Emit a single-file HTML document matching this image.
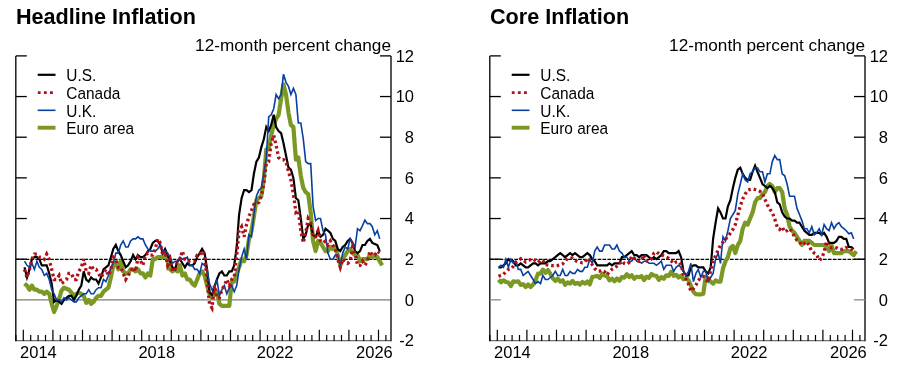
<!DOCTYPE html>
<html><head><meta charset="utf-8"><style>
html,body{margin:0;padding:0;background:#fff;width:901px;height:367px;overflow:hidden}
svg{display:block;will-change:transform}
text{font-family:"Liberation Sans",sans-serif;fill:#000}
.title{font-size:21.6px;font-weight:bold}
.lab{font-size:17.2px}
.ax{font-size:16.5px}
.leg{font-size:16.6px}
</style></head><body>
<svg width="901" height="367" viewBox="0 0 901 367">
<text x="16" y="23.6" class="title">Headline Inflation</text>
<text x="391.0" y="51" class="lab" text-anchor="end">12-month percent change</text>
<line x1="15.8" y1="299.85" x2="391.0" y2="299.85" stroke="#7c7c7c" stroke-width="1.4"/>
<line x1="15.8" y1="259.4" x2="391.0" y2="259.4" stroke="#000" stroke-width="1.25" stroke-dasharray="3.7,1.2"/>
<path d="M15.8,340.65 H391.0" fill="none" stroke="#6e6e6e" stroke-width="1.3"/>
<path d="M15.8,55.9 V341.3" fill="none" stroke="#1e1e1e" stroke-width="1.5"/>
<path d="M391.0,55.9 V341.3" fill="none" stroke="#1e1e1e" stroke-width="1.5"/>
<line x1="15.8" y1="259.19" x2="26.8" y2="259.19" stroke="#000" stroke-width="1.3"/>
<line x1="380.0" y1="259.19" x2="391.0" y2="259.19" stroke="#000" stroke-width="1.3"/>
<line x1="15.8" y1="218.53" x2="26.8" y2="218.53" stroke="#000" stroke-width="1.3"/>
<line x1="380.0" y1="218.53" x2="391.0" y2="218.53" stroke="#000" stroke-width="1.3"/>
<line x1="15.8" y1="177.87" x2="26.8" y2="177.87" stroke="#000" stroke-width="1.3"/>
<line x1="380.0" y1="177.87" x2="391.0" y2="177.87" stroke="#000" stroke-width="1.3"/>
<line x1="15.8" y1="137.21" x2="26.8" y2="137.21" stroke="#000" stroke-width="1.3"/>
<line x1="380.0" y1="137.21" x2="391.0" y2="137.21" stroke="#000" stroke-width="1.3"/>
<line x1="15.8" y1="96.55" x2="26.8" y2="96.55" stroke="#000" stroke-width="1.3"/>
<line x1="380.0" y1="96.55" x2="391.0" y2="96.55" stroke="#000" stroke-width="1.3"/>
<line x1="15.8" y1="55.89" x2="26.8" y2="55.89" stroke="#000" stroke-width="1.3"/>
<line x1="380.0" y1="55.89" x2="391.0" y2="55.89" stroke="#000" stroke-width="1.3"/>
<text x="414" y="346.1" class="ax" text-anchor="end">-2</text>
<text x="414" y="305.5" class="ax" text-anchor="end">0</text>
<text x="414" y="264.8" class="ax" text-anchor="end">2</text>
<text x="414" y="224.1" class="ax" text-anchor="end">4</text>
<text x="414" y="183.5" class="ax" text-anchor="end">6</text>
<text x="414" y="142.8" class="ax" text-anchor="end">8</text>
<text x="414" y="102.2" class="ax" text-anchor="end">10</text>
<text x="414" y="61.5" class="ax" text-anchor="end">12</text>
<line x1="15.9" y1="341.1" x2="15.9" y2="335.0" stroke="#000" stroke-width="1.2"/>
<line x1="23.3" y1="341.1" x2="23.3" y2="329.7" stroke="#000" stroke-width="1.2"/>
<line x1="30.7" y1="341.1" x2="30.7" y2="335.0" stroke="#000" stroke-width="1.2"/>
<line x1="38.1" y1="341.1" x2="38.1" y2="335.0" stroke="#000" stroke-width="1.2"/>
<line x1="45.5" y1="341.1" x2="45.5" y2="335.0" stroke="#000" stroke-width="1.2"/>
<line x1="52.9" y1="341.1" x2="52.9" y2="329.7" stroke="#000" stroke-width="1.2"/>
<line x1="60.3" y1="341.1" x2="60.3" y2="335.0" stroke="#000" stroke-width="1.2"/>
<line x1="67.7" y1="341.1" x2="67.7" y2="335.0" stroke="#000" stroke-width="1.2"/>
<line x1="75.1" y1="341.1" x2="75.1" y2="335.0" stroke="#000" stroke-width="1.2"/>
<line x1="82.5" y1="341.1" x2="82.5" y2="329.7" stroke="#000" stroke-width="1.2"/>
<line x1="89.9" y1="341.1" x2="89.9" y2="335.0" stroke="#000" stroke-width="1.2"/>
<line x1="97.3" y1="341.1" x2="97.3" y2="335.0" stroke="#000" stroke-width="1.2"/>
<line x1="104.7" y1="341.1" x2="104.7" y2="335.0" stroke="#000" stroke-width="1.2"/>
<line x1="112.1" y1="341.1" x2="112.1" y2="329.7" stroke="#000" stroke-width="1.2"/>
<line x1="119.5" y1="341.1" x2="119.5" y2="335.0" stroke="#000" stroke-width="1.2"/>
<line x1="126.9" y1="341.1" x2="126.9" y2="335.0" stroke="#000" stroke-width="1.2"/>
<line x1="134.3" y1="341.1" x2="134.3" y2="335.0" stroke="#000" stroke-width="1.2"/>
<line x1="141.7" y1="341.1" x2="141.7" y2="329.7" stroke="#000" stroke-width="1.2"/>
<line x1="149.1" y1="341.1" x2="149.1" y2="335.0" stroke="#000" stroke-width="1.2"/>
<line x1="156.5" y1="341.1" x2="156.5" y2="335.0" stroke="#000" stroke-width="1.2"/>
<line x1="163.9" y1="341.1" x2="163.9" y2="335.0" stroke="#000" stroke-width="1.2"/>
<line x1="171.3" y1="341.1" x2="171.3" y2="329.7" stroke="#000" stroke-width="1.2"/>
<line x1="178.7" y1="341.1" x2="178.7" y2="335.0" stroke="#000" stroke-width="1.2"/>
<line x1="186.1" y1="341.1" x2="186.1" y2="335.0" stroke="#000" stroke-width="1.2"/>
<line x1="193.5" y1="341.1" x2="193.5" y2="335.0" stroke="#000" stroke-width="1.2"/>
<line x1="200.9" y1="341.1" x2="200.9" y2="329.7" stroke="#000" stroke-width="1.2"/>
<line x1="208.3" y1="341.1" x2="208.3" y2="335.0" stroke="#000" stroke-width="1.2"/>
<line x1="215.7" y1="341.1" x2="215.7" y2="335.0" stroke="#000" stroke-width="1.2"/>
<line x1="223.1" y1="341.1" x2="223.1" y2="335.0" stroke="#000" stroke-width="1.2"/>
<line x1="230.5" y1="341.1" x2="230.5" y2="329.7" stroke="#000" stroke-width="1.2"/>
<line x1="237.9" y1="341.1" x2="237.9" y2="335.0" stroke="#000" stroke-width="1.2"/>
<line x1="245.3" y1="341.1" x2="245.3" y2="335.0" stroke="#000" stroke-width="1.2"/>
<line x1="252.7" y1="341.1" x2="252.7" y2="335.0" stroke="#000" stroke-width="1.2"/>
<line x1="260.1" y1="341.1" x2="260.1" y2="329.7" stroke="#000" stroke-width="1.2"/>
<line x1="267.5" y1="341.1" x2="267.5" y2="335.0" stroke="#000" stroke-width="1.2"/>
<line x1="274.9" y1="341.1" x2="274.9" y2="335.0" stroke="#000" stroke-width="1.2"/>
<line x1="282.3" y1="341.1" x2="282.3" y2="335.0" stroke="#000" stroke-width="1.2"/>
<line x1="289.7" y1="341.1" x2="289.7" y2="329.7" stroke="#000" stroke-width="1.2"/>
<line x1="297.1" y1="341.1" x2="297.1" y2="335.0" stroke="#000" stroke-width="1.2"/>
<line x1="304.5" y1="341.1" x2="304.5" y2="335.0" stroke="#000" stroke-width="1.2"/>
<line x1="311.9" y1="341.1" x2="311.9" y2="335.0" stroke="#000" stroke-width="1.2"/>
<line x1="319.3" y1="341.1" x2="319.3" y2="329.7" stroke="#000" stroke-width="1.2"/>
<line x1="326.7" y1="341.1" x2="326.7" y2="335.0" stroke="#000" stroke-width="1.2"/>
<line x1="334.1" y1="341.1" x2="334.1" y2="335.0" stroke="#000" stroke-width="1.2"/>
<line x1="341.5" y1="341.1" x2="341.5" y2="335.0" stroke="#000" stroke-width="1.2"/>
<line x1="348.9" y1="341.1" x2="348.9" y2="329.7" stroke="#000" stroke-width="1.2"/>
<line x1="356.3" y1="341.1" x2="356.3" y2="335.0" stroke="#000" stroke-width="1.2"/>
<line x1="363.7" y1="341.1" x2="363.7" y2="335.0" stroke="#000" stroke-width="1.2"/>
<line x1="371.1" y1="341.1" x2="371.1" y2="335.0" stroke="#000" stroke-width="1.2"/>
<line x1="378.5" y1="341.1" x2="378.5" y2="329.7" stroke="#000" stroke-width="1.2"/>
<line x1="385.9" y1="341.1" x2="385.9" y2="335.0" stroke="#000" stroke-width="1.2"/>
<text x="38.4" y="358" class="ax" text-anchor="middle">2014</text>
<text x="156.8" y="358" class="ax" text-anchor="middle">2018</text>
<text x="275.2" y="358" class="ax" text-anchor="middle">2022</text>
<text x="392.8" y="358" class="ax" text-anchor="end">2026</text>
<line x1="37.7" y1="74.8" x2="55.5" y2="74.8" stroke="#000000" stroke-width="2.2"/>
<line x1="39.2" y1="92.6" x2="55.5" y2="92.6" stroke="#b0101a" stroke-width="2.8" stroke-dasharray="0.01,6.1" stroke-linecap="square"/>
<line x1="37.7" y1="110.3" x2="55.5" y2="110.3" stroke="#0840a2" stroke-width="1.6"/>
<line x1="37.7" y1="127.7" x2="55.5" y2="127.7" stroke="#7b9824" stroke-width="3.9"/>
<text transform="translate(66.3,81.00) scale(0.93,1)" class="leg">U.S.</text>
<text transform="translate(66.3,98.75) scale(0.93,1)" class="leg">Canada</text>
<text transform="translate(66.3,116.50) scale(0.93,1)" class="leg">U.K.</text>
<text transform="translate(66.3,134.25) scale(0.93,1)" class="leg">Euro area</text>
<path d="M24.5,283.6 L27.0,285.6 L29.5,289.7 L31.9,285.6 L34.4,289.7 L36.9,289.7 L39.3,291.7 L41.8,291.7 L44.3,293.8 L46.7,291.7 L49.2,293.8 L51.7,303.9 L54.1,312.0 L56.6,305.9 L59.1,298.8 L61.5,290.7 L64.0,287.7 L66.5,288.7 L68.9,289.7 L71.4,292.7 L73.9,295.8 L76.3,293.8 L78.8,292.7 L81.3,293.8 L83.7,295.8 L86.2,302.9 L88.7,299.9 L91.1,303.9 L93.6,301.9 L96.1,297.8 L98.5,295.8 L101.0,295.8 L103.5,291.7 L105.9,289.7 L108.4,287.7 L110.9,277.5 L113.3,265.3 L115.8,262.2 L118.3,269.4 L120.7,261.2 L123.2,271.4 L125.7,273.4 L128.1,273.4 L130.6,269.4 L133.1,269.4 L135.5,271.4 L138.0,269.4 L140.5,273.4 L142.9,273.4 L145.4,277.5 L147.9,273.4 L150.3,275.5 L152.8,259.2 L155.3,259.2 L157.7,257.2 L160.2,257.2 L162.7,257.2 L165.1,253.1 L167.6,261.2 L170.1,269.4 L172.5,271.4 L175.0,269.4 L177.5,271.4 L179.9,265.3 L182.4,275.5 L184.9,273.4 L187.3,279.5 L189.8,279.5 L192.3,283.6 L194.7,285.6 L197.2,279.5 L199.7,273.4 L202.1,271.4 L204.6,275.5 L207.1,285.6 L209.5,293.8 L212.0,297.8 L214.5,293.8 L216.9,291.7 L219.4,303.9 L221.9,305.9 L224.3,305.9 L226.8,305.9 L229.3,305.9 L231.7,281.6 L234.2,281.6 L236.7,273.4 L239.1,267.3 L241.6,259.2 L244.1,261.2 L246.5,255.1 L249.0,238.9 L251.5,230.7 L253.9,216.5 L256.4,200.2 L258.9,198.2 L261.3,196.2 L263.8,179.9 L266.3,149.4 L268.7,149.4 L271.2,135.2 L273.7,125.0 L276.1,118.9 L278.6,114.8 L281.1,98.6 L283.5,84.4 L286.0,94.5 L288.5,112.8 L290.9,125.0 L293.4,127.0 L295.9,159.6 L298.3,157.5 L300.8,175.8 L303.3,188.0 L305.7,192.1 L308.2,194.1 L310.7,212.4 L313.1,240.9 L315.6,251.1 L318.1,240.9 L320.5,242.9 L323.0,247.0 L325.5,251.1 L327.9,251.1 L330.4,247.0 L332.9,249.0 L335.3,247.0 L337.8,255.1 L340.3,265.3 L342.7,259.2 L345.2,255.1 L347.7,251.1 L350.1,249.0 L352.6,253.1 L355.1,255.1 L357.5,255.1 L360.0,261.2 L362.5,259.2 L364.9,259.2 L367.4,259.2 L369.9,255.1 L372.3,257.2 L374.8,255.1 L377.3,257.2 L379.7,261.2 L382.2,265.3" fill="none" stroke="#7b9824" stroke-width="4.2" stroke-linejoin="round"/>
<path d="M24.5,267.3 L27.0,277.5 L29.5,269.4 L31.9,259.2 L34.4,257.2 L36.9,257.2 L39.3,259.2 L41.8,265.3 L44.3,265.3 L46.7,265.3 L49.2,273.4 L51.7,283.6 L54.1,301.9 L56.6,299.9 L59.1,301.9 L61.5,303.9 L64.0,299.9 L66.5,297.8 L68.9,295.8 L71.4,295.8 L73.9,299.9 L76.3,295.8 L78.8,289.7 L81.3,285.6 L83.7,271.4 L86.2,279.5 L88.7,281.6 L91.1,277.5 L93.6,279.5 L96.1,279.5 L98.5,283.6 L101.0,277.5 L103.5,269.4 L105.9,267.3 L108.4,265.3 L110.9,257.2 L113.3,249.0 L115.8,245.0 L118.3,251.1 L120.7,255.1 L123.2,261.2 L125.7,267.3 L128.1,265.3 L130.6,261.2 L133.1,255.1 L135.5,259.2 L138.0,255.1 L140.5,257.2 L142.9,257.2 L145.4,255.1 L147.9,251.1 L150.3,249.0 L152.8,242.9 L155.3,240.9 L157.7,240.9 L160.2,245.0 L162.7,253.1 L165.1,249.0 L167.6,255.1 L170.1,261.2 L172.5,267.3 L175.0,269.4 L177.5,261.2 L179.9,259.2 L182.4,263.3 L184.9,267.3 L187.3,263.3 L189.8,265.3 L192.3,265.3 L194.7,263.3 L197.2,257.2 L199.7,253.1 L202.1,249.0 L204.6,253.1 L207.1,269.4 L209.5,292.7 L212.0,294.8 L214.5,286.6 L216.9,279.5 L219.4,273.4 L221.9,271.4 L224.3,275.5 L226.8,275.5 L229.3,271.4 L231.7,271.4 L234.2,265.3 L236.7,247.0 L239.1,214.5 L241.6,198.2 L244.1,190.1 L246.5,190.1 L249.0,192.1 L251.5,190.1 L253.9,173.8 L256.4,161.6 L258.9,157.5 L261.3,147.4 L263.8,139.2 L266.3,127.0 L268.7,131.1 L271.2,125.0 L273.7,114.8 L276.1,127.0 L278.6,131.1 L281.1,133.1 L283.5,143.3 L286.0,155.5 L288.5,167.7 L290.9,169.7 L293.4,177.9 L295.9,198.2 L298.3,200.2 L300.8,218.5 L303.3,238.9 L305.7,234.8 L308.2,224.6 L310.7,224.6 L313.1,234.8 L315.6,236.8 L318.1,230.7 L320.5,236.8 L323.0,234.8 L325.5,228.7 L327.9,230.7 L330.4,232.8 L332.9,238.9 L335.3,240.9 L337.8,249.0 L340.3,251.1 L342.7,247.0 L345.2,245.0 L347.7,240.9 L350.1,238.9 L352.6,242.9 L355.1,251.1 L357.5,253.1 L360.0,251.1 L362.5,245.0 L364.9,245.0 L367.4,240.9 L369.9,238.9 L372.3,242.9 L374.8,243.9 L377.3,245.0 L379.7,251.1" fill="none" stroke="#000000" stroke-width="2.2" stroke-linejoin="miter"/>
<path d="M24.5,261.2 L27.0,265.3 L29.5,267.3 L31.9,263.3 L34.4,269.4 L36.9,261.2 L39.3,267.3 L41.8,269.4 L44.3,275.5 L46.7,273.4 L49.2,279.5 L51.7,289.7 L54.1,293.8 L56.6,299.9 L59.1,299.9 L61.5,301.9 L64.0,297.8 L66.5,299.9 L68.9,297.8 L71.4,299.9 L73.9,301.9 L76.3,301.9 L78.8,297.8 L81.3,295.8 L83.7,293.8 L86.2,293.8 L88.7,289.7 L91.1,293.8 L93.6,293.8 L96.1,289.7 L98.5,287.7 L101.0,287.7 L103.5,279.5 L105.9,281.6 L108.4,275.5 L110.9,267.3 L113.3,263.3 L115.8,253.1 L118.3,253.1 L120.7,245.0 L123.2,240.9 L125.7,247.0 L128.1,247.0 L130.6,240.9 L133.1,238.9 L135.5,238.9 L138.0,236.8 L140.5,238.9 L142.9,238.9 L145.4,245.0 L147.9,249.0 L150.3,251.1 L152.8,251.1 L155.3,251.1 L157.7,249.0 L160.2,245.0 L162.7,251.1 L165.1,251.1 L167.6,253.1 L170.1,257.2 L172.5,263.3 L175.0,261.2 L177.5,261.2 L179.9,257.2 L182.4,259.2 L184.9,259.2 L187.3,257.2 L189.8,265.3 L192.3,265.3 L194.7,269.4 L197.2,269.4 L199.7,273.4 L202.1,263.3 L204.6,265.3 L207.1,269.4 L209.5,283.6 L212.0,289.7 L214.5,287.7 L216.9,279.5 L219.4,295.8 L221.9,289.7 L224.3,285.6 L226.8,293.8 L229.3,287.7 L231.7,285.6 L234.2,291.7 L236.7,285.6 L239.1,269.4 L241.6,257.2 L244.1,249.0 L246.5,259.2 L249.0,234.8 L251.5,236.8 L253.9,214.5 L256.4,196.2 L258.9,190.1 L261.3,188.0 L263.8,173.8 L266.3,157.5 L268.7,116.9 L271.2,114.8 L273.7,108.7 L276.1,94.5 L278.6,98.6 L281.1,94.5 L283.5,74.2 L286.0,82.3 L288.5,86.4 L290.9,94.5 L293.4,88.4 L295.9,94.5 L298.3,123.0 L300.8,123.0 L303.3,139.2 L305.7,161.6 L308.2,163.6 L310.7,163.6 L313.1,206.3 L315.6,220.6 L318.1,218.5 L320.5,218.5 L323.0,230.7 L325.5,234.8 L327.9,253.1 L330.4,259.2 L332.9,259.2 L335.3,255.1 L337.8,255.1 L340.3,265.3 L342.7,253.1 L345.2,247.0 L347.7,249.0 L350.1,238.9 L352.6,242.9 L355.1,247.0 L357.5,228.7 L360.0,230.7 L362.5,225.6 L364.9,220.2 L367.4,223.6 L369.9,223.6 L372.3,226.7 L374.8,234.8 L377.3,230.7 L379.7,238.9" fill="none" stroke="#0840a2" stroke-width="1.6" stroke-linejoin="miter"/>
<path d="M24.5,269.4 L27.0,277.5 L29.5,269.4 L31.9,259.2 L34.4,254.1 L36.9,254.1 L39.3,257.2 L41.8,257.2 L44.3,259.2 L46.7,254.1 L49.2,259.2 L51.7,269.4 L54.1,279.5 L56.6,279.5 L59.1,275.5 L61.5,283.6 L64.0,281.6 L66.5,279.5 L68.9,273.4 L71.4,273.4 L73.9,279.5 L76.3,279.5 L78.8,271.4 L81.3,267.3 L83.7,259.2 L86.2,271.4 L88.7,273.4 L91.1,265.3 L93.6,269.4 L96.1,269.4 L98.5,273.4 L101.0,277.5 L103.5,273.4 L105.9,269.4 L108.4,275.5 L110.9,269.4 L113.3,257.2 L115.8,259.2 L118.3,267.3 L120.7,267.3 L123.2,273.4 L125.7,279.5 L128.1,275.5 L130.6,271.4 L133.1,267.3 L135.5,271.4 L138.0,257.2 L140.5,261.2 L142.9,265.3 L145.4,255.1 L147.9,253.1 L150.3,255.1 L152.8,255.1 L155.3,249.0 L157.7,238.9 L160.2,242.9 L162.7,255.1 L165.1,251.1 L167.6,265.3 L170.1,259.2 L172.5,271.4 L175.0,269.4 L177.5,261.2 L179.9,259.2 L182.4,251.1 L184.9,259.2 L187.3,259.2 L189.8,261.2 L192.3,261.2 L194.7,261.2 L197.2,255.1 L199.7,255.1 L202.1,251.1 L204.6,255.1 L207.1,281.6 L209.5,303.9 L212.0,308.0 L214.5,285.6 L216.9,297.8 L219.4,297.8 L221.9,289.7 L224.3,285.6 L226.8,279.5 L229.3,285.6 L231.7,279.5 L234.2,277.5 L236.7,255.1 L239.1,230.7 L241.6,226.7 L244.1,236.8 L246.5,224.6 L249.0,216.5 L251.5,210.4 L253.9,204.3 L256.4,204.3 L258.9,202.3 L261.3,196.2 L263.8,184.0 L266.3,163.6 L268.7,161.6 L271.2,143.3 L273.7,135.2 L276.1,145.3 L278.6,157.5 L281.1,159.6 L283.5,159.6 L286.0,161.6 L288.5,171.8 L290.9,179.9 L293.4,194.1 L295.9,212.4 L298.3,210.4 L300.8,230.7 L303.3,242.9 L305.7,232.8 L308.2,218.5 L310.7,222.6 L313.1,236.8 L315.6,236.8 L318.1,230.7 L320.5,240.9 L323.0,242.9 L325.5,240.9 L327.9,245.0 L330.4,240.9 L332.9,245.0 L335.3,249.0 L337.8,259.2 L340.3,267.3 L342.7,259.2 L345.2,261.2 L347.7,263.3 L350.1,261.2 L352.6,247.0 L355.1,253.1 L357.5,265.3 L360.0,265.3 L362.5,261.2 L364.9,265.3 L367.4,261.2 L369.9,251.1 L372.3,255.1 L374.8,255.1 L377.3,251.1 L379.7,253.1" fill="none" stroke="#b0101a" stroke-width="3.3" stroke-dasharray="2.6,2.9" stroke-linecap="butt"/>
<text x="490" y="23.6" class="title">Core Inflation</text>
<text x="865.0" y="51" class="lab" text-anchor="end">12-month percent change</text>
<line x1="489.8" y1="259.4" x2="865.0" y2="259.4" stroke="#000" stroke-width="1.25" stroke-dasharray="3.7,1.2"/>
<path d="M489.8,340.65 H865.0" fill="none" stroke="#6e6e6e" stroke-width="1.3"/>
<path d="M489.8,55.9 V341.3" fill="none" stroke="#1e1e1e" stroke-width="1.5"/>
<path d="M865.0,55.9 V341.3" fill="none" stroke="#1e1e1e" stroke-width="1.5"/>
<line x1="489.8" y1="259.19" x2="500.8" y2="259.19" stroke="#000" stroke-width="1.3"/>
<line x1="854.0" y1="259.19" x2="865.0" y2="259.19" stroke="#000" stroke-width="1.3"/>
<line x1="489.8" y1="218.53" x2="500.8" y2="218.53" stroke="#000" stroke-width="1.3"/>
<line x1="854.0" y1="218.53" x2="865.0" y2="218.53" stroke="#000" stroke-width="1.3"/>
<line x1="489.8" y1="177.87" x2="500.8" y2="177.87" stroke="#000" stroke-width="1.3"/>
<line x1="854.0" y1="177.87" x2="865.0" y2="177.87" stroke="#000" stroke-width="1.3"/>
<line x1="489.8" y1="137.21" x2="500.8" y2="137.21" stroke="#000" stroke-width="1.3"/>
<line x1="854.0" y1="137.21" x2="865.0" y2="137.21" stroke="#000" stroke-width="1.3"/>
<line x1="489.8" y1="96.55" x2="500.8" y2="96.55" stroke="#000" stroke-width="1.3"/>
<line x1="854.0" y1="96.55" x2="865.0" y2="96.55" stroke="#000" stroke-width="1.3"/>
<line x1="489.8" y1="55.89" x2="500.8" y2="55.89" stroke="#000" stroke-width="1.3"/>
<line x1="854.0" y1="55.89" x2="865.0" y2="55.89" stroke="#000" stroke-width="1.3"/>
<line x1="489.8" y1="299.85" x2="500.8" y2="299.85" stroke="#8a8a8a" stroke-width="1.3"/>
<line x1="854.0" y1="299.85" x2="865.0" y2="299.85" stroke="#8a8a8a" stroke-width="1.3"/>
<text x="888" y="346.1" class="ax" text-anchor="end">-2</text>
<text x="888" y="305.5" class="ax" text-anchor="end">0</text>
<text x="888" y="264.8" class="ax" text-anchor="end">2</text>
<text x="888" y="224.1" class="ax" text-anchor="end">4</text>
<text x="888" y="183.5" class="ax" text-anchor="end">6</text>
<text x="888" y="142.8" class="ax" text-anchor="end">8</text>
<text x="888" y="102.2" class="ax" text-anchor="end">10</text>
<text x="888" y="61.5" class="ax" text-anchor="end">12</text>
<line x1="489.9" y1="341.1" x2="489.9" y2="335.0" stroke="#000" stroke-width="1.2"/>
<line x1="497.3" y1="341.1" x2="497.3" y2="329.7" stroke="#000" stroke-width="1.2"/>
<line x1="504.7" y1="341.1" x2="504.7" y2="335.0" stroke="#000" stroke-width="1.2"/>
<line x1="512.1" y1="341.1" x2="512.1" y2="335.0" stroke="#000" stroke-width="1.2"/>
<line x1="519.5" y1="341.1" x2="519.5" y2="335.0" stroke="#000" stroke-width="1.2"/>
<line x1="526.9" y1="341.1" x2="526.9" y2="329.7" stroke="#000" stroke-width="1.2"/>
<line x1="534.3" y1="341.1" x2="534.3" y2="335.0" stroke="#000" stroke-width="1.2"/>
<line x1="541.7" y1="341.1" x2="541.7" y2="335.0" stroke="#000" stroke-width="1.2"/>
<line x1="549.1" y1="341.1" x2="549.1" y2="335.0" stroke="#000" stroke-width="1.2"/>
<line x1="556.5" y1="341.1" x2="556.5" y2="329.7" stroke="#000" stroke-width="1.2"/>
<line x1="563.9" y1="341.1" x2="563.9" y2="335.0" stroke="#000" stroke-width="1.2"/>
<line x1="571.3" y1="341.1" x2="571.3" y2="335.0" stroke="#000" stroke-width="1.2"/>
<line x1="578.7" y1="341.1" x2="578.7" y2="335.0" stroke="#000" stroke-width="1.2"/>
<line x1="586.1" y1="341.1" x2="586.1" y2="329.7" stroke="#000" stroke-width="1.2"/>
<line x1="593.5" y1="341.1" x2="593.5" y2="335.0" stroke="#000" stroke-width="1.2"/>
<line x1="600.9" y1="341.1" x2="600.9" y2="335.0" stroke="#000" stroke-width="1.2"/>
<line x1="608.3" y1="341.1" x2="608.3" y2="335.0" stroke="#000" stroke-width="1.2"/>
<line x1="615.7" y1="341.1" x2="615.7" y2="329.7" stroke="#000" stroke-width="1.2"/>
<line x1="623.1" y1="341.1" x2="623.1" y2="335.0" stroke="#000" stroke-width="1.2"/>
<line x1="630.5" y1="341.1" x2="630.5" y2="335.0" stroke="#000" stroke-width="1.2"/>
<line x1="637.9" y1="341.1" x2="637.9" y2="335.0" stroke="#000" stroke-width="1.2"/>
<line x1="645.3" y1="341.1" x2="645.3" y2="329.7" stroke="#000" stroke-width="1.2"/>
<line x1="652.7" y1="341.1" x2="652.7" y2="335.0" stroke="#000" stroke-width="1.2"/>
<line x1="660.1" y1="341.1" x2="660.1" y2="335.0" stroke="#000" stroke-width="1.2"/>
<line x1="667.5" y1="341.1" x2="667.5" y2="335.0" stroke="#000" stroke-width="1.2"/>
<line x1="674.9" y1="341.1" x2="674.9" y2="329.7" stroke="#000" stroke-width="1.2"/>
<line x1="682.3" y1="341.1" x2="682.3" y2="335.0" stroke="#000" stroke-width="1.2"/>
<line x1="689.7" y1="341.1" x2="689.7" y2="335.0" stroke="#000" stroke-width="1.2"/>
<line x1="697.1" y1="341.1" x2="697.1" y2="335.0" stroke="#000" stroke-width="1.2"/>
<line x1="704.5" y1="341.1" x2="704.5" y2="329.7" stroke="#000" stroke-width="1.2"/>
<line x1="711.9" y1="341.1" x2="711.9" y2="335.0" stroke="#000" stroke-width="1.2"/>
<line x1="719.3" y1="341.1" x2="719.3" y2="335.0" stroke="#000" stroke-width="1.2"/>
<line x1="726.7" y1="341.1" x2="726.7" y2="335.0" stroke="#000" stroke-width="1.2"/>
<line x1="734.1" y1="341.1" x2="734.1" y2="329.7" stroke="#000" stroke-width="1.2"/>
<line x1="741.5" y1="341.1" x2="741.5" y2="335.0" stroke="#000" stroke-width="1.2"/>
<line x1="748.9" y1="341.1" x2="748.9" y2="335.0" stroke="#000" stroke-width="1.2"/>
<line x1="756.3" y1="341.1" x2="756.3" y2="335.0" stroke="#000" stroke-width="1.2"/>
<line x1="763.7" y1="341.1" x2="763.7" y2="329.7" stroke="#000" stroke-width="1.2"/>
<line x1="771.1" y1="341.1" x2="771.1" y2="335.0" stroke="#000" stroke-width="1.2"/>
<line x1="778.5" y1="341.1" x2="778.5" y2="335.0" stroke="#000" stroke-width="1.2"/>
<line x1="785.9" y1="341.1" x2="785.9" y2="335.0" stroke="#000" stroke-width="1.2"/>
<line x1="793.3" y1="341.1" x2="793.3" y2="329.7" stroke="#000" stroke-width="1.2"/>
<line x1="800.7" y1="341.1" x2="800.7" y2="335.0" stroke="#000" stroke-width="1.2"/>
<line x1="808.1" y1="341.1" x2="808.1" y2="335.0" stroke="#000" stroke-width="1.2"/>
<line x1="815.5" y1="341.1" x2="815.5" y2="335.0" stroke="#000" stroke-width="1.2"/>
<line x1="822.9" y1="341.1" x2="822.9" y2="329.7" stroke="#000" stroke-width="1.2"/>
<line x1="830.3" y1="341.1" x2="830.3" y2="335.0" stroke="#000" stroke-width="1.2"/>
<line x1="837.7" y1="341.1" x2="837.7" y2="335.0" stroke="#000" stroke-width="1.2"/>
<line x1="845.1" y1="341.1" x2="845.1" y2="335.0" stroke="#000" stroke-width="1.2"/>
<line x1="852.5" y1="341.1" x2="852.5" y2="329.7" stroke="#000" stroke-width="1.2"/>
<line x1="859.9" y1="341.1" x2="859.9" y2="335.0" stroke="#000" stroke-width="1.2"/>
<text x="512.4" y="358" class="ax" text-anchor="middle">2014</text>
<text x="630.8" y="358" class="ax" text-anchor="middle">2018</text>
<text x="749.2" y="358" class="ax" text-anchor="middle">2022</text>
<text x="866.8" y="358" class="ax" text-anchor="end">2026</text>
<line x1="511.7" y1="74.8" x2="529.5" y2="74.8" stroke="#000000" stroke-width="2.2"/>
<line x1="513.2" y1="92.6" x2="529.5" y2="92.6" stroke="#b0101a" stroke-width="2.8" stroke-dasharray="0.01,6.1" stroke-linecap="square"/>
<line x1="511.7" y1="110.3" x2="529.5" y2="110.3" stroke="#0840a2" stroke-width="1.6"/>
<line x1="511.7" y1="127.7" x2="529.5" y2="127.7" stroke="#7b9824" stroke-width="3.9"/>
<text transform="translate(540.3,81.00) scale(0.93,1)" class="leg">U.S.</text>
<text transform="translate(540.3,98.75) scale(0.93,1)" class="leg">Canada</text>
<text transform="translate(540.3,116.50) scale(0.93,1)" class="leg">U.K.</text>
<text transform="translate(540.3,134.25) scale(0.93,1)" class="leg">Euro area</text>
<path d="M498.5,279.7 L501.0,282.3 L503.5,280.3 L505.9,282.0 L508.4,282.5 L510.9,286.0 L513.3,281.3 L515.8,281.8 L518.3,281.3 L520.7,284.9 L523.2,284.2 L525.7,287.0 L528.1,284.5 L530.6,287.0 L533.1,284.5 L535.5,280.4 L538.0,273.6 L540.5,273.6 L542.9,269.6 L545.4,272.8 L547.9,270.1 L550.3,273.7 L552.8,278.2 L555.3,280.9 L557.7,278.6 L560.2,281.6 L562.7,280.3 L565.1,284.8 L567.6,282.5 L570.1,283.7 L572.5,280.9 L575.0,283.9 L577.5,282.8 L579.9,284.6 L582.4,281.9 L584.9,283.6 L587.3,281.5 L589.8,284.4 L592.3,276.8 L594.7,276.5 L597.2,275.9 L599.7,277.9 L602.1,273.8 L604.6,275.6 L607.1,276.3 L609.5,280.4 L612.0,278.6 L614.5,281.3 L616.9,278.5 L619.4,280.7 L621.9,277.0 L624.3,277.6 L626.8,274.2 L629.3,277.0 L631.7,275.3 L634.2,278.7 L636.7,276.7 L639.1,277.2 L641.6,276.2 L644.1,280.1 L646.5,276.7 L649.0,277.9 L651.5,274.0 L653.9,275.5 L656.4,275.8 L658.9,279.9 L661.3,277.1 L663.8,278.7 L666.3,275.3 L668.7,275.9 L671.2,271.7 L673.7,275.9 L676.1,274.8 L678.6,277.5 L681.1,275.7 L683.5,279.3 L686.0,277.8 L688.5,280.5 L690.9,285.6 L693.4,291.7 L695.9,294.2 L698.3,294.4 L700.8,294.4 L703.3,293.8 L705.7,276.5 L708.2,279.5 L710.7,281.6 L713.1,283.6 L715.6,280.5 L718.1,281.6 L720.5,281.6 L723.0,268.3 L725.5,261.2 L727.9,257.2 L730.4,248.0 L732.9,246.0 L735.3,253.1 L737.8,245.0 L740.3,240.9 L742.7,228.7 L745.2,222.6 L747.7,224.6 L750.1,218.5 L752.6,212.4 L755.1,202.3 L757.5,198.2 L760.0,198.2 L762.5,194.1 L764.9,192.1 L767.4,186.0 L769.9,184.0 L772.3,186.0 L774.8,192.1 L777.3,188.0 L779.7,188.0 L782.2,192.1 L784.7,208.4 L787.1,214.5 L789.6,226.7 L792.1,230.7 L794.5,232.8 L797.0,236.8 L799.5,240.9 L801.9,245.0 L804.4,240.9 L806.9,240.9 L809.3,240.9 L811.8,242.9 L814.3,245.0 L816.7,245.0 L819.2,245.0 L821.7,245.0 L824.1,245.0 L826.6,247.0 L829.1,251.1 L831.5,245.0 L834.0,253.1 L836.5,253.1 L838.9,253.1 L841.4,253.1 L843.9,251.1 L846.3,251.1 L848.8,251.1 L851.3,253.1 L853.7,255.1 L856.2,251.1" fill="none" stroke="#7b9824" stroke-width="4.2" stroke-linejoin="round"/>
<path d="M498.5,267.3 L501.0,267.3 L503.5,265.3 L505.9,263.3 L508.4,259.2 L510.9,261.2 L513.3,261.2 L515.8,265.3 L518.3,265.3 L520.7,263.3 L523.2,265.3 L525.7,267.3 L528.1,267.3 L530.6,265.3 L533.1,263.3 L535.5,263.3 L538.0,265.3 L540.5,263.3 L542.9,263.3 L545.4,263.3 L547.9,261.2 L550.3,261.2 L552.8,259.2 L555.3,257.2 L557.7,255.1 L560.2,253.1 L562.7,255.1 L565.1,257.2 L567.6,255.1 L570.1,253.1 L572.5,255.1 L575.0,253.1 L577.5,255.1 L579.9,257.2 L582.4,257.2 L584.9,255.1 L587.3,253.1 L589.8,255.1 L592.3,259.2 L594.7,261.2 L597.2,265.3 L599.7,265.3 L602.1,265.3 L604.6,265.3 L607.1,265.3 L609.5,263.3 L612.0,265.3 L614.5,263.3 L616.9,263.3 L619.4,263.3 L621.9,257.2 L624.3,257.2 L626.8,255.1 L629.3,253.1 L631.7,251.1 L634.2,255.1 L636.7,255.1 L639.1,257.2 L641.6,255.1 L644.1,255.1 L646.5,255.1 L649.0,257.2 L651.5,259.2 L653.9,257.2 L656.4,259.2 L658.9,257.2 L661.3,255.1 L663.8,251.1 L666.3,251.1 L668.7,253.1 L671.2,253.1 L673.7,253.1 L676.1,253.1 L678.6,251.1 L681.1,257.2 L683.5,271.4 L686.0,275.5 L688.5,275.5 L690.9,267.3 L693.4,265.3 L695.9,265.3 L698.3,267.3 L700.8,267.3 L703.3,267.3 L705.7,271.4 L708.2,273.4 L710.7,267.3 L713.1,238.9 L715.6,222.6 L718.1,208.4 L720.5,212.4 L723.0,218.5 L725.5,218.5 L727.9,206.3 L730.4,200.2 L732.9,188.0 L735.3,177.9 L737.8,169.7 L740.3,167.7 L742.7,173.8 L745.2,177.9 L747.7,179.9 L750.1,179.9 L752.6,171.8 L755.1,165.7 L757.5,171.8 L760.0,177.9 L762.5,184.0 L764.9,186.0 L767.4,188.0 L769.9,186.0 L772.3,188.0 L774.8,192.1 L777.3,202.3 L779.7,204.3 L782.2,212.4 L784.7,216.5 L787.1,218.5 L789.6,218.5 L792.1,220.6 L794.5,220.6 L797.0,222.6 L799.5,222.6 L801.9,226.7 L804.4,230.7 L806.9,232.8 L809.3,234.8 L811.8,234.8 L814.3,232.8 L816.7,232.8 L819.2,232.8 L821.7,234.8 L824.1,232.8 L826.6,236.8 L829.1,242.9 L831.5,242.9 L834.0,242.9 L836.5,240.9 L838.9,236.8 L841.4,236.8 L843.9,238.9 L846.3,238.9 L848.8,247.0 L851.3,247.0 L853.7,249.0" fill="none" stroke="#000000" stroke-width="2.2" stroke-linejoin="miter"/>
<path d="M498.5,267.3 L501.0,265.3 L503.5,267.3 L505.9,259.2 L508.4,267.3 L510.9,259.2 L513.3,263.3 L515.8,261.2 L518.3,269.4 L520.7,269.4 L523.2,275.5 L525.7,273.4 L528.1,271.4 L530.6,275.5 L533.1,279.5 L535.5,283.6 L538.0,281.6 L540.5,283.6 L542.9,275.5 L545.4,279.5 L547.9,279.5 L550.3,277.5 L552.8,275.5 L555.3,271.4 L557.7,275.5 L560.2,275.5 L562.7,269.4 L565.1,275.5 L567.6,275.5 L570.1,271.4 L572.5,273.4 L575.0,273.4 L577.5,269.4 L579.9,271.4 L582.4,271.4 L584.9,267.3 L587.3,267.3 L589.8,259.2 L592.3,263.3 L594.7,251.1 L597.2,247.0 L599.7,251.1 L602.1,251.1 L604.6,245.0 L607.1,245.0 L609.5,245.0 L612.0,249.0 L614.5,249.0 L616.9,245.0 L619.4,251.1 L621.9,253.1 L624.3,257.2 L626.8,257.2 L629.3,261.2 L631.7,261.2 L634.2,257.2 L636.7,261.2 L639.1,261.2 L641.6,263.3 L644.1,261.2 L646.5,261.2 L649.0,263.3 L651.5,263.3 L653.9,263.3 L656.4,265.3 L658.9,263.3 L661.3,261.2 L663.8,269.4 L666.3,265.3 L668.7,265.3 L671.2,265.3 L673.7,271.4 L676.1,267.3 L678.6,265.3 L681.1,267.3 L683.5,271.4 L686.0,275.5 L688.5,271.4 L690.9,263.3 L693.4,281.6 L695.9,273.4 L698.3,269.4 L700.8,277.5 L703.3,271.4 L705.7,271.4 L708.2,281.6 L710.7,277.5 L713.1,273.4 L715.6,259.2 L718.1,253.1 L720.5,263.3 L723.0,236.8 L725.5,240.9 L727.9,230.7 L730.4,218.5 L732.9,214.5 L735.3,210.4 L737.8,194.1 L740.3,184.0 L742.7,173.8 L745.2,179.9 L747.7,181.9 L750.1,173.8 L752.6,171.8 L755.1,167.7 L757.5,167.7 L760.0,171.8 L762.5,171.8 L764.9,181.9 L767.4,173.8 L769.9,173.8 L772.3,161.6 L774.8,155.5 L777.3,159.6 L779.7,159.6 L782.2,173.8 L784.7,175.8 L787.1,184.0 L789.6,196.2 L792.1,196.2 L794.5,196.2 L797.0,208.4 L799.5,214.5 L801.9,220.6 L804.4,228.7 L806.9,228.7 L809.3,232.8 L811.8,226.7 L814.3,234.8 L816.7,232.8 L819.2,228.7 L821.7,234.8 L824.1,224.6 L826.6,228.7 L829.1,230.7 L831.5,222.6 L834.0,228.7 L836.5,224.6 L838.9,222.6 L841.4,226.7 L843.9,228.7 L846.3,230.7 L848.8,233.8 L851.3,232.8 L853.7,238.9" fill="none" stroke="#0840a2" stroke-width="1.6" stroke-linejoin="miter"/>
<path d="M498.5,276.3 L501.0,275.4 L503.5,274.4 L505.9,271.6 L508.4,269.4 L510.9,269.0 L513.3,266.3 L515.8,262.6 L518.3,260.7 L520.7,258.8 L523.2,260.2 L525.7,262.0 L528.1,260.8 L530.6,259.6 L533.1,258.9 L535.5,260.8 L538.0,262.6 L540.5,260.1 L542.9,260.3 L545.4,264.5 L547.9,265.0 L550.3,265.4 L552.8,265.7 L555.3,265.8 L557.7,265.5 L560.2,264.9 L562.7,263.8 L565.1,261.4 L567.6,258.3 L570.1,258.0 L572.5,258.2 L575.0,260.4 L577.5,261.6 L579.9,262.2 L582.4,262.8 L584.9,262.3 L587.3,258.1 L589.8,261.3 L592.3,264.9 L594.7,268.5 L597.2,271.0 L599.7,271.1 L602.1,270.2 L604.6,271.7 L607.1,274.9 L609.5,271.4 L612.0,269.3 L614.5,267.7 L616.9,266.1 L619.4,263.9 L621.9,260.8 L624.3,263.5 L626.8,264.3 L629.3,262.2 L631.7,256.1 L634.2,258.4 L636.7,260.4 L639.1,261.5 L641.6,260.5 L644.1,254.7 L646.5,260.9 L649.0,261.4 L651.5,258.9 L653.9,253.4 L656.4,251.7 L658.9,253.9 L661.3,255.0 L663.8,256.0 L666.3,257.2 L668.7,258.4 L671.2,260.8 L673.7,263.7 L676.1,262.0 L678.6,261.7 L681.1,264.7 L683.5,274.6 L686.0,279.4 L688.5,284.1 L690.9,291.1 L693.4,288.6 L695.9,285.2 L698.3,280.5 L700.8,277.4 L703.3,276.4 L705.7,279.8 L708.2,281.7 L710.7,270.5 L713.1,261.0 L715.6,255.6 L718.1,250.2 L720.5,245.0 L723.0,242.2 L725.5,239.3 L727.9,236.5 L730.4,233.0 L732.9,229.5 L735.3,224.7 L737.8,215.2 L740.3,205.9 L742.7,199.1 L745.2,194.1 L747.7,190.3 L750.1,189.4 L752.6,189.0 L755.1,189.5 L757.5,190.1 L760.0,191.4 L762.5,193.3 L764.9,199.3 L767.4,204.8 L769.9,209.4 L772.3,212.4 L774.8,219.1 L777.3,227.1 L779.7,229.4 L782.2,226.9 L784.7,231.9 L787.1,230.6 L789.6,228.7 L792.1,231.8 L794.5,236.9 L797.0,240.2 L799.5,241.8 L801.9,245.2 L804.4,243.4 L806.9,241.7 L809.3,246.1 L811.8,251.1 L814.3,253.2 L816.7,254.6 L819.2,260.2 L821.7,258.5 L824.1,251.9 L826.6,241.5 L829.1,247.3 L831.5,247.9 L834.0,247.3 L836.5,247.8 L838.9,249.3 L841.4,249.4 L843.9,249.1 L846.3,247.5 L848.8,248.1 L851.3,249.3 L853.7,250.0" fill="none" stroke="#b0101a" stroke-width="3.3" stroke-dasharray="2.6,2.9" stroke-linecap="butt"/>
</svg>
</body></html>
